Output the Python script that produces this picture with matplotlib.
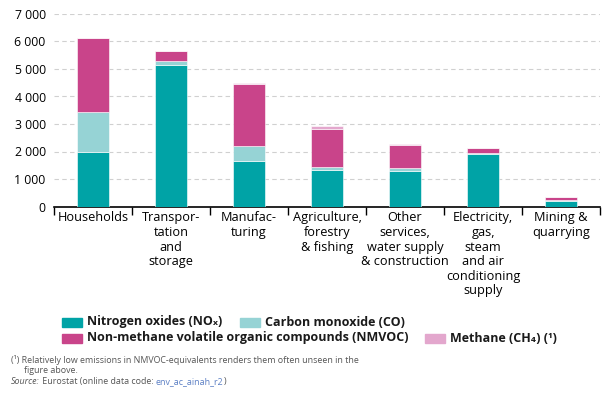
import numpy as np
import matplotlib.pyplot as plt
from matplotlib.patches import Rectangle

plt.rcParams['font.family'] = ['Open Sans', 'DejaVu Sans']

categories = ['Households', 'Transpor-\ntation\nand\nstorage', 'Manufac-\nturing',
              'Agriculture,\nforestry\n& fishing', 'Other\nservices,\nwater supply\n& construction',
              'Electricity,\ngas,\nsteam\nand air\nconditioning\nsupply', 'Mining &\nquarrying']
nox = [2000, 5150, 1640, 1310, 1300, 1910, 200]
co = [1440, 150, 570, 110, 100, 50, 20]
nmvoc = [2680, 340, 2250, 1400, 830, 150, 120]
methane = [20, 10, 20, 110, 60, 30, 20]

series_names = ['Nitrogen oxides (NOₓ)', 'Carbon monoxide (CO)',
                'Non-methane volatile organic compounds (NMVOC)', 'Methane (CH₄) (¹)']
colors = ['#00a3a6', '#96d3d5', '#c9448a', '#e3a7cd']

fig = plt.figure(figsize=(6.02, 4.03), dpi=100)
ax = fig.add_axes([54 / 602, 1 - 206.5 / 403, 546 / 602, 192.5 / 403])

x = np.arange(len(categories))
bottom = np.zeros(len(categories))
for vals, c in zip([nox, co, nmvoc, methane], colors):
    ax.bar(x, vals, 0.4, bottom=bottom, color=c, edgecolor='white', linewidth=0.4, zorder=3)
    bottom += np.array(vals)

ax.set_xlim(-0.5, len(categories) - 0.5)
ax.set_ylim(0, 7000)
ax.set_yticks(range(0, 7001, 1000))
ax.set_yticklabels([f'{v:,}'.replace(',', ' ') for v in range(0, 7001, 1000)], fontsize=8.8)
ax.tick_params(axis='y', length=0, pad=6)
ax.yaxis.grid(True, color='#d0d0d0', linestyle=(0, (4, 3)), linewidth=0.8, zorder=0)
ax.set_axisbelow(True)

ax.set_xticks(np.arange(-0.5, len(categories)), labels=[''] * (len(categories) + 1))
ax.set_xticks(x, labels=categories, minor=True)
ax.tick_params(axis='x', which='major', length=6, width=1, color='black')
ax.tick_params(axis='x', which='minor', length=0, pad=3.5, labelsize=9.2)
for lbl in ax.get_xticklabels(minor=True):
    lbl.set_linespacing(1.16)

for s in ['top', 'right', 'left']:
    ax.spines[s].set_visible(False)
ax.spines['bottom'].set_linewidth(1.2)

# legend laid out like the original
items = [(62, 322, 0), (240, 322, 1), (62, 338, 2), (425, 338, 3)]
for px, py, i in items:
    fig.patches.append(Rectangle((px / 602, 1 - (py + 4.5) / 403), 20 / 602, 9 / 403,
                                 transform=fig.transFigure, color=colors[i]))
    fig.text((px + 25) / 602, 1 - py / 403, series_names[i], fontsize=9, fontweight='bold',
             va='center', ha='left', color='#1a1a1a')

grey = '#555555'
fs = 6.4
fig.text(11 / 602, 1 - 360 / 403, '(¹) Relatively low emissions in NMVOC-equivalents renders them often unseen in the',
         fontsize=fs, color=grey, va='center')
fig.text(24 / 602, 1 - 370.5 / 403, 'figure above.', fontsize=fs, color=grey, va='center')

# source line: chain the pieces one after another
renderer = fig.canvas.get_renderer()
xpos = 11
for txt, col, sty in [('Source:', grey, 'italic'), (' Eurostat (online data code: ', grey, 'normal'),
                      ('env_ac_ainah_r2', '#5b7fc4', 'normal'), (')', grey, 'normal')]:
    t = fig.text(xpos / 602, 1 - 381.5 / 403, txt, fontsize=fs, color=col, style=sty, va='center')
    xpos += t.get_window_extent(renderer).width

fig.savefig('out.png', dpi=100)
